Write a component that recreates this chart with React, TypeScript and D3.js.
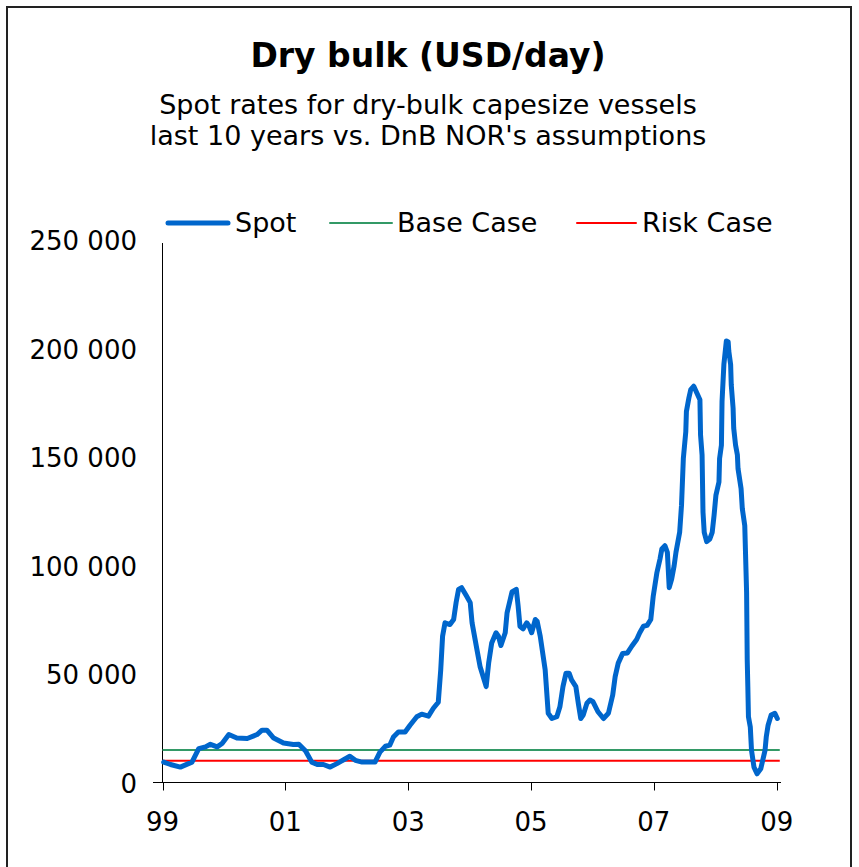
import React from 'react';
import * as d3 from 'd3';

const spotYears = [
  1999.02, 1999.13, 1999.29, 1999.48, 1999.59, 1999.7, 1999.78, 1999.89, 1999.97, 2000.08,
  2000.21, 2000.38, 2000.54, 2000.62, 2000.7, 2000.81, 2000.97, 2001.13, 2001.22, 2001.33,
  2001.43, 2001.52, 2001.62, 2001.73, 2001.84, 2001.95, 2002.05, 2002.14, 2002.25, 2002.46,
  2002.54, 2002.63, 2002.7, 2002.76, 2002.84, 2002.95, 2003.03, 2003.14, 2003.22, 2003.33,
  2003.41, 2003.49, 2003.53, 2003.56, 2003.6, 2003.68, 2003.74, 2003.78, 2003.82, 2003.87,
  2003.95, 2004.01, 2004.04, 2004.12, 2004.17, 2004.27, 2004.31, 2004.36, 2004.43, 2004.47,
  2004.51, 2004.58, 2004.61, 2004.69, 2004.76, 2004.79, 2004.82, 2004.87, 2004.93, 2004.97,
  2005.01, 2005.07, 2005.1, 2005.15, 2005.23, 2005.28, 2005.34, 2005.42, 2005.47, 2005.52,
  2005.57, 2005.62, 2005.66, 2005.73, 2005.77, 2005.81, 2005.85, 2005.91, 2005.96, 2006.01,
  2006.09, 2006.18, 2006.26, 2006.33, 2006.37, 2006.42, 2006.49, 2006.57, 2006.64, 2006.72,
  2006.77, 2006.83, 2006.89, 2006.95, 2006.99, 2007.05, 2007.1, 2007.13, 2007.18, 2007.22,
  2007.25, 2007.29, 2007.33, 2007.36, 2007.42, 2007.45, 2007.48, 2007.52, 2007.53, 2007.57,
  2007.6, 2007.65, 2007.7, 2007.75, 2007.76, 2007.785, 2007.8, 2007.82, 2007.86, 2007.91,
  2007.95, 2007.98, 2008.01, 2008.06, 2008.07, 2008.1, 2008.11, 2008.14, 2008.18, 2008.21,
  2008.22, 2008.25, 2008.26, 2008.29, 2008.3, 2008.33, 2008.36, 2008.37, 2008.42, 2008.44,
  2008.48, 2008.51, 2008.52, 2008.53, 2008.54, 2008.57, 2008.59, 2008.63, 2008.68, 2008.74,
  2008.81, 2008.83, 2008.86, 2008.91, 2008.97, 2009.01,
];

const spotValues = [
  9400, 8300, 7100, 9400, 15600, 16400, 17600, 16400, 18000, 22100,
  20500, 20300, 22100, 24100, 24100, 20500, 18200, 17500, 17600, 14500,
  9400, 8300, 8300, 7100, 8700, 10500, 12100, 10200, 9400, 9400,
  14000, 16700, 17200, 21000, 23300, 23300, 26400, 30300, 31500, 30600,
  34200, 37000, 51900, 67400, 73600, 72800, 75100, 82900, 89000, 89800,
  85900, 82900, 73600, 61200, 53500, 44200, 55000, 64300, 69000, 67400,
  63100, 69000, 78200, 87800, 89000, 81300, 72000, 70800, 73600, 72000,
  69000, 75100, 74300, 67400, 52000, 31900, 29500, 30300, 34900, 44200,
  50400, 50400, 47300, 44200, 36500, 29500, 31100, 36500, 38000, 37200,
  32600, 29500, 31900, 40300, 48800, 55000, 59400, 59700, 62800, 65900,
  69000, 72000, 72400, 75100, 85900, 96800, 103000, 107600, 109100, 106100,
  89800, 93700, 99900, 106100, 115300, 127700, 149300, 161700, 171000, 177200,
  181000, 182600, 179500, 176400, 160200, 150900, 124600, 115300, 111000, 112200,
  115300, 123000, 132300, 138500, 149300, 155500, 175600, 192600, 203500, 203000,
  198800, 192600, 183300, 172500, 163300, 155500, 150900, 144700, 135400, 126200,
  118400, 87500, 56600, 44200, 30300, 25600, 14800, 7100, 4000, 6300,
  14800, 21000, 26400, 31100, 31900, 29500,
];

const baseCase = 15000;
const riskCase = 10000;
const xTickYears = [1999, 2001, 2003, 2005, 2007, 2009];
const xTickLabels = ['99', '01', '03', '05', '07', '09'];
const yTicks = [0, 50000, 100000, 150000, 200000, 250000];

const W = 859;
const H = 867;
const FONT = '"DejaVu Sans", Verdana, sans-serif';

const fmt = (v: number) => d3.format(',')(v).replace(/,/g, ' ');

export default function App() {
  const x = d3.scaleLinear().domain([1999, 2009.07]).range([162.5, 781]);
  const y = d3.scaleLinear().domain([0, 250000]).range([782.5, 240]);

  const pts = spotYears.map((t, i) => [t, spotValues[i]] as [number, number]);
  const line = d3
    .line<[number, number]>()
    .x((d) => x(d[0]))
    .y((d) => y(d[1]));

  const legend = [
    { label: 'Spot', color: '#0066CC', width: 5, x0: 168, x1: 228, tx: 235 },
    { label: 'Base Case', color: '#339966', width: 2, x0: 330, x1: 392, tx: 397 },
    { label: 'Risk Case', color: '#FF0000', width: 2, x0: 577, x1: 636, tx: 642 },
  ];

  return (
    <svg
      width={W}
      height={H}
      style={{ position: 'absolute', left: 0, top: 0, background: '#fff' }}
      fontFamily={FONT}
    >
      <rect x={7} y={7} width={844} height={900} fill="#fff" stroke="#222" strokeWidth={2} />

      <text x={428} y={67} textAnchor="middle" fontSize={33} fontWeight="bold" fill="#000">
        Dry bulk (USD/day)
      </text>
      <text x={428} y={114} textAnchor="middle" fontSize={27} fill="#000">
        Spot rates for dry-bulk capesize vessels
      </text>
      <text x={428} y={145} textAnchor="middle" fontSize={27} fill="#000">
        last 10 years vs. DnB NOR's assumptions
      </text>

      {legend.map((l) => (
        <g key={l.label}>
          <line x1={l.x0} x2={l.x1} y1={223} y2={223} stroke={l.color} strokeWidth={l.width} strokeLinecap="round" />
          <text x={l.tx} y={232} fontSize={27} fill="#000">
            {l.label}
          </text>
        </g>
      ))}

      {/* axes */}
      <line x1={x(1999)} x2={x(1999)} y1={243} y2={y(0)} stroke="#000" strokeWidth={1} />
      <line x1={153} x2={781} y1={y(0)} y2={y(0)} stroke="#000" strokeWidth={1} />
      {xTickYears.map((t, i) => (
        <g key={t}>
          <line x1={Math.round(x(t)) + 0.5} x2={Math.round(x(t)) + 0.5} y1={y(0)} y2={y(0) + 8} stroke="#000" strokeWidth={1} />
          <text x={x(t)} y={831} textAnchor="middle" fontSize={26} fill="#000">
            {xTickLabels[i]}
          </text>
        </g>
      ))}
      {yTicks.map((v) => (
        <text key={v} x={137} y={y(v) + 10} textAnchor="end" fontSize={26} fill="#000">
          {fmt(v)}
        </text>
      ))}

      {/* assumptions */}
      <line x1={x(1999)} x2={x(2009.05)} y1={y(baseCase)} y2={y(baseCase)} stroke="#339966" strokeWidth={2} />
      <line x1={x(1999)} x2={x(2009.05)} y1={y(riskCase)} y2={y(riskCase)} stroke="#FF0000" strokeWidth={2} />

      <path
        d={line(pts) ?? ''}
        fill="none"
        stroke="#0066CC"
        strokeWidth={5}
        strokeLinejoin="round"
        strokeLinecap="round"
      />
    </svg>
  );
}
